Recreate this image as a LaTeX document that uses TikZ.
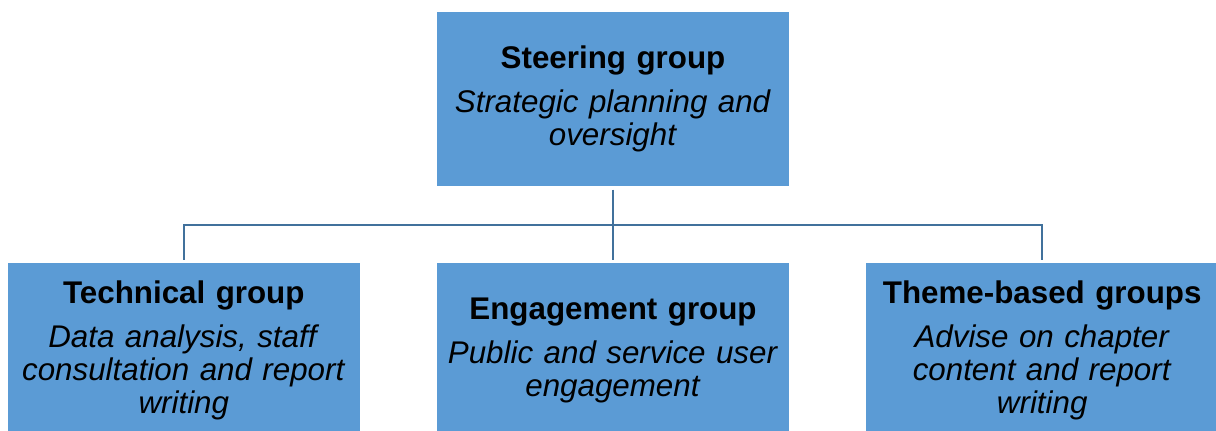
\documentclass[tikz,border=0pt]{standalone}
\usepackage{fontspec}
\setmainfont{Liberation Sans}
\usetikzlibrary{positioning}
\definecolor{boxblue}{RGB}{91,155,213}
\definecolor{lineblue}{RGB}{65,113,156}
\begin{document}
\begin{tikzpicture}[node distance=57.5pt,
        group box/.style={fill=boxblue,minimum width=264pt,minimum height=130.5pt,
            text width=260pt,align=center,inner sep=0pt,
            font=\fontsize{23.5}{24.75}\selectfont},
        link/.style={draw=lineblue,line width=1.5pt,shorten <=2.5pt,shorten >=2.5pt}]

        \useasboundingbox (0,0) rectangle (912pt,-322.5pt);

        % Define groups
        \node[group box] (steer) at (459.75pt,-74.25pt)
            {\textbf{Steering group}\\[8pt]\textit{Strategic planning and}\\\textit{oversight}};
        \node[group box] (eng) [below=of steer]
            {\textbf{Engagement group}\\[8pt]\textit{Public and service user}\\\textit{engagement}};
        \node[group box] (tech) [left=of eng]
            {\textbf{Technical group}\\[8pt]\textit{Data analysis, staff}\\\textit{consultation and report}\\\textit{writing}};
        \node[group box] (theme) [right=of eng]
            {\textbf{Theme-based groups}\\[8pt]\textit{Advise on chapter}\\\textit{content and report}\\\textit{writing}};

        % Draw links
        \path (steer.south) -- coordinate[midway] (bus) (eng.north);
        \draw[link] (steer) -- (eng);
        \draw[link] (tech.north) |- (bus) -| (theme.north);

        \end{tikzpicture}
\end{document}
